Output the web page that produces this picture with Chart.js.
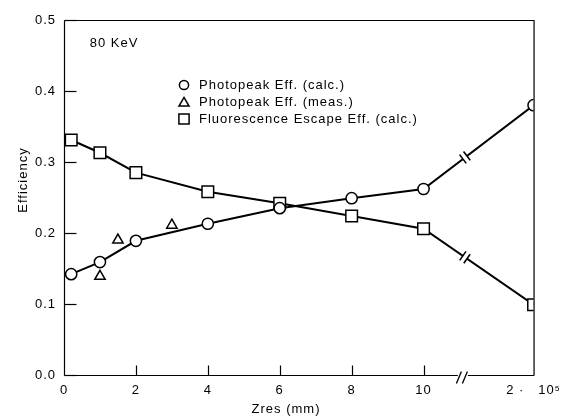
<!DOCTYPE html>
<html><head><meta charset="utf-8">
<script src="https://cdn.jsdelivr.net/npm/chart.js@4.4.0/dist/chart.umd.min.js"></script>
<style>html,body{margin:0;padding:0;background:#fff;}#wrap{width:569px;height:416px;position:relative;}</style>
</head><body><div id="wrap"><canvas id="c" width="569" height="416"></canvas></div>
<script>
const zres = [0.2, 1, 2, 4, 6, 8, 10, 200000];
const photopeakCalc = [0.142, 0.159, 0.189, 0.213, 0.235, 0.249, 0.262, 0.380];
const escapeCalc = [0.331, 0.313, 0.285, 0.258, 0.242, 0.224, 0.206, 0.099];
const zresMeas = [1, 1.5, 3];
const photopeakMeas = [0.139, 0.190, 0.211];
const xTickValues = [0, 2, 4, 6, 8, 10, 200000];
const xTickLabels = ['0', '2', '4', '6', '8', '10', '2 \u00b7   10\u2075'];
const yTickValues = [0, 0.1, 0.2, 0.3, 0.4, 0.5];
const seriesNames = ['Photopeak Eff. (calc.)', 'Photopeak Eff. (meas.)', 'Fluorescence Escape Eff. (calc.)'];
const energyLabel = '80 KeV';
const xTitle = 'Zres (mm)';
const yTitle = 'Efficiency';

// broken x axis: values beyond the break are drawn at the far end of the axis
const BREAK_AT = 11.15, FAR_POS = 13.06;
function axisPos(v) { return v > 12 ? FAR_POS : v; }

const FONT = '"Liberation Sans", Arial, Helvetica, sans-serif';

function setSpacing(chart) { chart.ctx.letterSpacing = '1px'; }

const decor = {
  id: 'decor',
  beforeUpdate: setSpacing,
  beforeLayout: setSpacing,
  beforeDraw: setSpacing,
  afterDatasetsDraw(chart) {
    const ctx = chart.ctx, xs = chart.scales.x;
    const bxp = xs.getPixelForValue(BREAK_AT);
    [0, 2].forEach(di => {
      const pts = chart.getDatasetMeta(di).data;
      const a = pts[pts.length - 2], b = pts[pts.length - 1];
      const t = (bxp - a.x) / (b.x - a.x);
      const px = a.x + t * (b.x - a.x), py = a.y + t * (b.y - a.y);
      const len = Math.hypot(b.x - a.x, b.y - a.y);
      const ux = (b.x - a.x) / len, uy = (b.y - a.y) / len;
      const nx = -uy, ny = ux;
      ctx.save();
      ctx.strokeStyle = '#fff'; ctx.lineWidth = 4;
      ctx.beginPath(); ctx.moveTo(px - ux * 2.2, py - uy * 2.2); ctx.lineTo(px + ux * 2.2, py + uy * 2.2); ctx.stroke();
      ctx.strokeStyle = '#000'; ctx.lineWidth = 1.6;
      [-2.5, 2.5].forEach(o => {
        const cx = px + ux * o, cy = py + uy * o;
        ctx.beginPath(); ctx.moveTo(cx - nx * 5.5, cy - ny * 5.5); ctx.lineTo(cx + nx * 5.5, cy + ny * 5.5); ctx.stroke();
      });
      ctx.restore();
    });
  },
  afterDraw(chart) {
    const ctx = chart.ctx, ca = chart.chartArea, xs = chart.scales.x, ys = chart.scales.y;
    const L = ca.left + 0.5, R = ca.right + 0.5, T = ca.top + 0.5, B = ca.bottom + 0.5;
    const bxp = xs.getPixelForValue(BREAK_AT) - 3;
    ctx.save();
    ctx.letterSpacing = '1px';
    ctx.strokeStyle = '#000'; ctx.lineWidth = 1.2;
    ctx.beginPath();
    ctx.moveTo(L, T); ctx.lineTo(L, B);
    ctx.moveTo(L, T); ctx.lineTo(R, T); ctx.lineTo(R, B);
    ctx.moveTo(L, B); ctx.lineTo(bxp - 4, B);
    ctx.moveTo(bxp + 6, B); ctx.lineTo(R, B);
    ctx.stroke();
    // axis break slashes
    ctx.lineWidth = 1.3;
    [-3, 3].forEach(o => {
      ctx.beginPath(); ctx.moveTo(bxp + o - 2.5, B + 8); ctx.lineTo(bxp + o + 2.5, B - 4); ctx.stroke();
    });
    // inward tick marks
    ctx.lineWidth = 1.2;
    yTickValues.forEach(v => {
      const y = Math.round(ys.getPixelForValue(v)) + 0.5;
      ctx.beginPath(); ctx.moveTo(L, y); ctx.lineTo(L + 12, y); ctx.stroke();
    });
    xTickValues.forEach(v => {
      if (v === 0 || v > 12) return;
      const x = Math.round(xs.getPixelForValue(v)) + 0.5;
      ctx.beginPath(); ctx.moveTo(x, B); ctx.lineTo(x, B - 10); ctx.stroke();
    });
    // texts
    ctx.fillStyle = '#000';
    ctx.font = '13px ' + FONT;
    ctx.textBaseline = 'middle';
    ctx.textAlign = 'center';
    ctx.fillText(energyLabel, 114, 43);
    ctx.fillText(xTitle, 286, 409);
    ctx.save();
    ctx.translate(23.5, 180);
    ctx.rotate(-Math.PI / 2);
    ctx.fillText(yTitle, 0, 0);
    ctx.restore();
    // legend
    const styles = [
      { pointStyle: 'circle', radius: 4.6 },
      { pointStyle: 'triangle', radius: 5.8 },
      { pointStyle: 'rect', radius: 7.2 }
    ];
    const rows = [85, 102, 119];
    ctx.textAlign = 'left';
    seriesNames.forEach((name, i) => {
      ctx.fillStyle = '#fff'; ctx.strokeStyle = '#000'; ctx.lineWidth = 1.5;
      const yy = i === 1 ? rows[i] + 1.2 : rows[i];
      Chart.helpers.drawPoint(ctx, { pointStyle: styles[i].pointStyle, radius: styles[i].radius, borderWidth: 1.5, rotation: 0 }, 184, yy);
      ctx.fillStyle = '#000';
      ctx.fillText(name, 199, rows[i] + 0.5);
    });
    ctx.restore();
  }
};

const commonPoint = { pointBackgroundColor: '#fff', pointBorderColor: '#000', pointBorderWidth: 1.5, borderColor: '#000', borderWidth: 2 };

new Chart(document.getElementById('c'), {
  type: 'scatter',
  data: {
    datasets: [
      Object.assign({
        label: seriesNames[0],
        data: zres.map((x, i) => ({ x: axisPos(x), y: photopeakCalc[i] })),
        showLine: true, pointStyle: 'circle', pointRadius: 5.6
      }, commonPoint),
      Object.assign({
        label: seriesNames[1],
        data: zresMeas.map((x, i) => ({ x: axisPos(x), y: photopeakMeas[i] })),
        showLine: false, pointStyle: 'triangle', pointRadius: 6
      }, commonPoint),
      Object.assign({
        label: seriesNames[2],
        data: zres.map((x, i) => ({ x: axisPos(x), y: escapeCalc[i] })),
        showLine: true, pointStyle: 'rect', pointRadius: 8.2
      }, commonPoint)
    ]
  },
  options: {
    responsive: false, animation: false, devicePixelRatio: 1,
    layout: { padding: { left: 0, top: 20, right: 35, bottom: 0 } },
    plugins: { legend: { display: false }, tooltip: { enabled: false } },
    scales: {
      x: {
        type: 'linear', min: 0, max: FAR_POS,
        afterBuildTicks(s) { s.ticks = xTickValues.map(v => ({ value: axisPos(v) })); },
        afterFit(s) { s.height = 41; },
        grid: { display: false, drawTicks: false },
        border: { display: false },
        ticks: {
          color: '#000', font: { family: FONT, size: 13 }, padding: 8,
          maxRotation: 0, autoSkip: false,
          callback: (v, i) => xTickLabels[i]
        }
      },
      y: {
        type: 'linear', min: 0, max: 0.5,
        afterBuildTicks(s) { s.ticks = yTickValues.map(v => ({ value: v })); },
        afterFit(s) { s.width = 64; },
        grid: { display: false, drawTicks: false },
        border: { display: false },
        ticks: {
          color: '#000', font: { family: FONT, size: 13 }, padding: 8,
          callback: v => Number(v).toFixed(1)
        }
      }
    }
  },
  plugins: [decor]
});
</script>
</body></html>
